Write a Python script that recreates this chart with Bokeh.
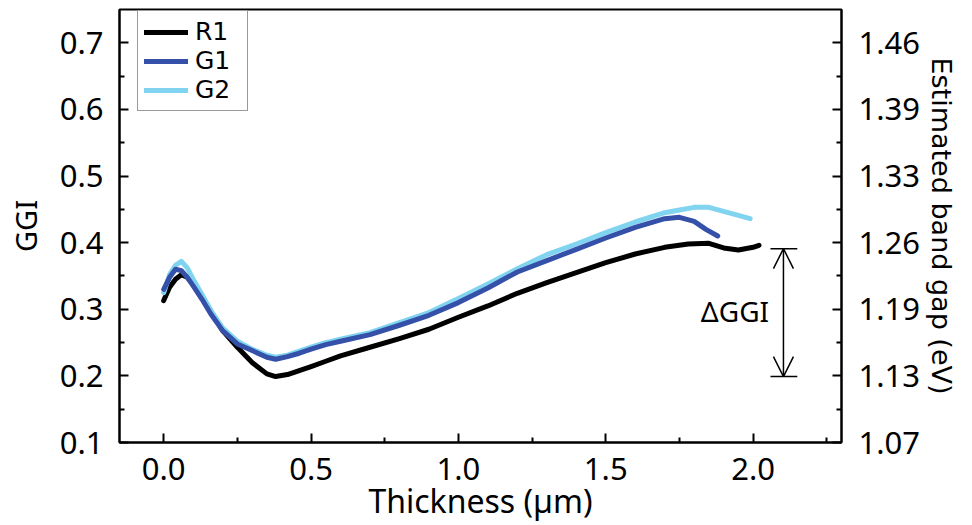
from bokeh.plotting import figure
from bokeh.models import (LinearAxis, FixedTicker, Range1d, Legend, LegendItem,
                          Arrow, OpenHead, ColumnDataSource)
from bokeh.embed import file_html
from bokeh.resources import INLINE
from bokeh.core.properties import value

# ---------------- data ----------------
r1_x = [0.00, 0.02, 0.04, 0.06, 0.08, 0.10, 0.13, 0.16, 0.20, 0.25, 0.30, 0.35, 0.38, 0.42,
        0.46, 0.50, 0.55, 0.60, 0.70, 0.80, 0.90, 1.00, 1.10, 1.20, 1.30, 1.40, 1.50, 1.60,
        1.70, 1.78, 1.85, 1.90, 1.95, 2.00, 2.02]
r1_y = [0.313, 0.333, 0.345, 0.352, 0.348, 0.338, 0.320, 0.297, 0.268, 0.243, 0.220, 0.203,
        0.199, 0.202, 0.208, 0.214, 0.222, 0.230, 0.243, 0.256, 0.270, 0.288, 0.305, 0.324,
        0.340, 0.355, 0.370, 0.383, 0.393, 0.398, 0.399, 0.392, 0.389, 0.393, 0.396]

g1_x = [0.00, 0.02, 0.04, 0.06, 0.08, 0.10, 0.13, 0.16, 0.20, 0.25, 0.30, 0.35, 0.38, 0.42,
        0.46, 0.50, 0.55, 0.60, 0.70, 0.80, 0.90, 1.00, 1.10, 1.20, 1.30, 1.40, 1.50, 1.60,
        1.70, 1.75, 1.80, 1.84, 1.88]
g1_y = [0.330, 0.348, 0.360, 0.358, 0.348, 0.335, 0.315, 0.293, 0.268, 0.248, 0.238, 0.228,
        0.225, 0.229, 0.234, 0.240, 0.247, 0.252, 0.262, 0.276, 0.291, 0.310, 0.332, 0.356,
        0.373, 0.390, 0.407, 0.423, 0.436, 0.438, 0.432, 0.420, 0.410]

g2_x = [0.00, 0.02, 0.04, 0.06, 0.08, 0.10, 0.13, 0.16, 0.20, 0.25, 0.30, 0.35, 0.38, 0.42,
        0.46, 0.50, 0.55, 0.60, 0.70, 0.80, 0.90, 1.00, 1.10, 1.20, 1.30, 1.40, 1.50, 1.60,
        1.70, 1.75, 1.80, 1.85, 1.90, 1.95, 1.99]
g2_y = [0.325, 0.352, 0.366, 0.372, 0.362, 0.345, 0.322, 0.298, 0.272, 0.252, 0.240, 0.231,
        0.228, 0.231, 0.237, 0.243, 0.250, 0.255, 0.265, 0.280, 0.295, 0.316, 0.338, 0.361,
        0.382, 0.398, 0.415, 0.431, 0.445, 0.449, 0.453, 0.453, 0.447, 0.441, 0.436]

series_names = ["R1", "G1", "G2"]
series_colors = {"R1": "#000000", "G1": "#3550A8", "G2": "#80D4F0"}

x_ticks = [0.0, 0.5, 1.0, 1.5, 2.0]
x_minor = [0.25, 0.75, 1.25, 1.75, 2.25]
x_tick_labels = ["0.0", "0.5", "1.0", "1.5", "2.0"]

ggi_ticks = [0.1, 0.2, 0.3, 0.4, 0.5, 0.6, 0.7]
ggi_minor = [0.15, 0.25, 0.35, 0.45, 0.55, 0.65]
ggi_tick_labels = ["0.1", "0.2", "0.3", "0.4", "0.5", "0.6", "0.7"]
gap_tick_labels = ["1.07", "1.13", "1.19", "1.26", "1.33", "1.39", "1.46"]
gap_title = "Estimated band gap (eV)"

# Delta-GGI annotation (data units)
dggi_x = 2.103
dggi_top = 0.391
dggi_bottom = 0.199
dggi_bar_left = 2.059
dggi_bar_right = 2.150
dggi_text = "ΔGGI"

FONT = "Noto Sans"

# ---------------- figure ----------------
W, H = 972, 525
p = figure(width=W, height=H, output_backend="svg", toolbar_location=None,
           x_range=Range1d(-0.15, 2.30), y_range=Range1d(0.1, 0.75),
           min_border_left=119, min_border_right=131, min_border_top=9,
           min_border_bottom=83, background_fill_color="white",
           border_fill_color="white")
p.xgrid.visible = False
p.ygrid.visible = False
p.outline_line_color = "black"
p.outline_line_width = 2
p.outline_line_alpha = 1.0


def style_axis(ax, size="31px", standoff=14):
    ax.axis_line_color = "black"
    ax.axis_line_width = 2
    ax.major_tick_line_color = "black"
    ax.major_tick_line_width = 2
    ax.minor_tick_line_color = "black"
    ax.minor_tick_line_width = 2
    ax.major_tick_in = 9
    ax.major_tick_out = 0
    ax.minor_tick_in = 5
    ax.minor_tick_out = 0
    ax.major_label_text_font = FONT
    ax.major_label_text_font_size = size
    ax.major_label_text_color = "black"
    ax.major_label_standoff = standoff
    ax.axis_label_text_font = FONT
    ax.axis_label_text_font_style = "normal"
    ax.axis_label_text_color = "black"


# x axis
xa = p.xaxis[0]
xa.ticker = FixedTicker(ticks=x_ticks, minor_ticks=x_minor)
xa.major_label_overrides = dict(zip(x_ticks, x_tick_labels))
style_axis(xa, size="31px", standoff=15)
xa.axis_label = "Thickness (µm)"
xa.axis_label_text_font_size = "32px"
xa.axis_label_standoff = -4

# left axis
ya = p.yaxis[0]
ya.ticker = FixedTicker(ticks=ggi_ticks, minor_ticks=ggi_minor)
ya.major_label_overrides = dict(zip(ggi_ticks, ggi_tick_labels))
style_axis(ya, size="31px", standoff=16)
ya.axis_label = "GGI"
ya.axis_label_text_font_size = "29px"
ya.axis_label_standoff = 12

# right axis (band gap)
yr = LinearAxis(ticker=FixedTicker(ticks=ggi_ticks, minor_ticks=ggi_minor))
yr.major_label_overrides = dict(zip(ggi_ticks, gap_tick_labels))
style_axis(yr, size="31px", standoff=17)
yr.axis_label = gap_title
yr.axis_label_text_font = "DejaVu Sans"
yr.axis_label_text_font_size = "27px"
yr.axis_label_standoff = 3
p.add_layout(yr, "right")

# ---------------- series ----------------
src = {
    "R1": ColumnDataSource(dict(x=r1_x, y=r1_y)),
    "G1": ColumnDataSource(dict(x=g1_x, y=g1_y)),
    "G2": ColumnDataSource(dict(x=g2_x, y=g2_y)),
}
rend = {}
for name in ["R1", "G2", "G1"]:
    rend[name] = p.line("x", "y", source=src[name], line_color=series_colors[name],
                        line_width=5, line_join="round", line_cap="round")

legend = Legend(items=[LegendItem(label=n, renderers=[rend[n]]) for n in series_names],
                location=(18, 331))
legend.border_line_color = "#333333"
legend.border_line_width = 1
legend.background_fill_color = "white"
legend.background_fill_alpha = 1
legend.label_text_font = "DejaVu Sans"
legend.label_text_font_size = "25px"
legend.label_text_color = "black"
legend.glyph_width = 44
legend.glyph_height = 20
legend.label_height = 20
legend.label_width = 46
legend.spacing = -2
legend.padding = 6
legend.margin = 0
legend.label_standoff = 7
p.add_layout(legend)

# ---------------- Delta GGI annotation ----------------
p.segment(x0=[dggi_bar_left, dggi_bar_left], x1=[dggi_bar_right, dggi_bar_right],
          y0=[dggi_top, dggi_bottom], y1=[dggi_top, dggi_bottom],
          line_color="black", line_width=1.5)
p.add_layout(Arrow(x_start=dggi_x, y_start=dggi_bottom, x_end=dggi_x, y_end=dggi_top,
                   line_color="black", line_width=1.5,
                   start=OpenHead(size=20, line_color="black", line_width=1.5),
                   end=OpenHead(size=20, line_color="black", line_width=1.5)))
p.text(x=[dggi_bar_left - 0.005], y=[(dggi_top + dggi_bottom) / 2 + 0.003], text=[dggi_text],
       text_align="right", text_baseline="middle", text_font=value(FONT),
       text_font_size="28px", text_color="black")

open("out.html", "w").write(file_html(p, INLINE))
